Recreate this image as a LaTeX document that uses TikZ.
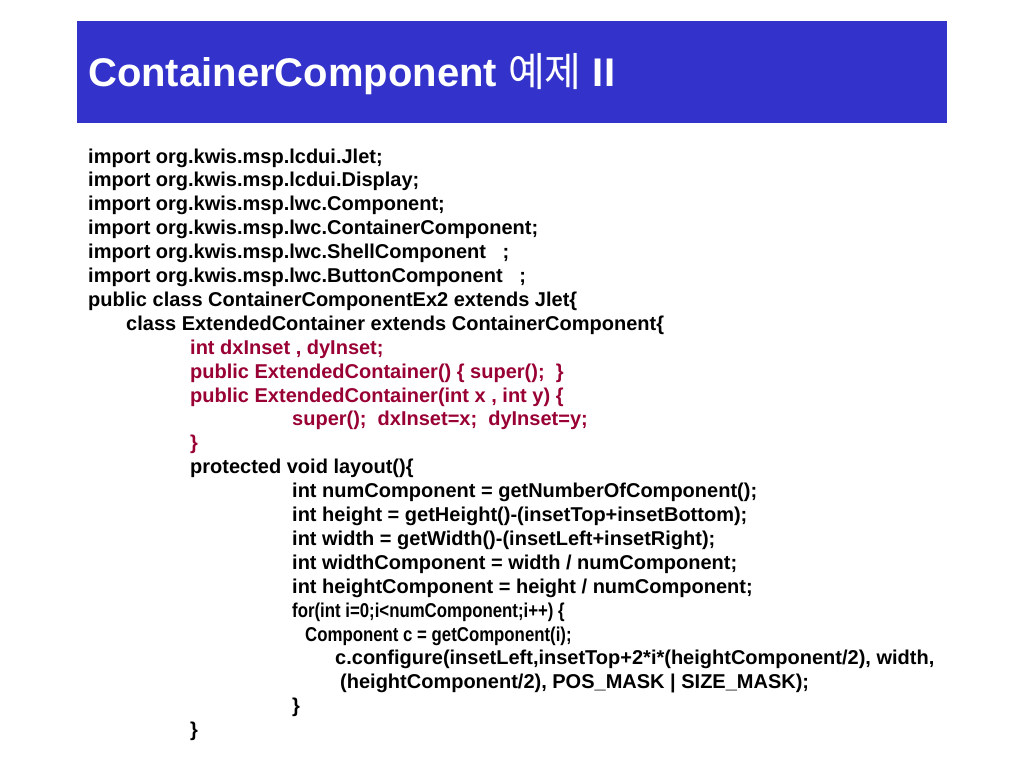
\documentclass[tikz,border=0pt]{standalone}
\usepackage{fontspec}
\setmainfont{Liberation Sans}
\newfontfamily\cjk{Noto Sans CJK KR}
\usepackage{tikz}
\usepackage{xcolor}
\definecolor{titleblue}{RGB}{51,51,204}
\definecolor{codered}{RGB}{153,0,51}
\tikzset{
  code/.style={anchor=base west,inner sep=0pt,font=\fontsize{20}{24}\selectfont\bfseries},
  redcode/.style={code,text=codered}
}

\begin{document}
\begin{tikzpicture}[x=1pt,y=-1pt]
	\useasboundingbox [fill=white] (0,0) rectangle (1024,768);

	\fill [titleblue] (77,21) rectangle (947,123);
	\node (title) [anchor=base west,inner sep=0pt,text=white,font=\fontsize{40}{48}\selectfont\bfseries] at (88,86) {ContainerComponent {\cjk\mdseries 예제} II};

	\node (l1) [code] at (88,163.0) {import org.kwis.msp.lcdui.Jlet;};
	\node (l2) [code] at (88,186.9) {import org.kwis.msp.lcdui.Display;};
	\node (l3) [code] at (88,210.8) {import org.kwis.msp.lwc.Component;};
	\node (l4) [code] at (88,234.7) {import org.kwis.msp.lwc.ContainerComponent;};
	\node (l5) [code] at (88,258.6) {import org.kwis.msp.lwc.ShellComponent~~~;};
	\node (l6) [code] at (88,282.5) {import org.kwis.msp.lwc.ButtonComponent~~~;};
	\node (l7) [code] at (88,306.4) {public class ContainerComponentEx2 extends Jlet\{};
	\node (l8) [code] at (126,330.3) {class ExtendedContainer extends ContainerComponent\{};

	\node (l9) [redcode] at (190,354.2) {int dxInset , dyInset;};
	\node (l10) [redcode] at (190,378.1) {public ExtendedContainer() \{ super();~~\}};
	\node (l11) [redcode] at (190,402.0) {public ExtendedContainer(int x , int y) \{};
	\node (l12) [redcode] at (292,425.9) {super();~~dxInset=x;~~dyInset=y;};
	\node (l13) [redcode] at (190,449.8) {\}};

	\node (l14) [code] at (190,473.7) {protected void layout()\{};
	\node (l15) [code] at (292,497.6) {int numComponent = getNumberOfComponent();};
	\node (l16) [code] at (292,521.5) {int height = getHeight()-(insetTop+insetBottom);};
	\node (l17) [code] at (292,545.4) {int width = getWidth()-(insetLeft+insetRight);};
	\node (l18) [code] at (292,569.3) {int widthComponent = width / numComponent;};
	\node (l19) [code] at (292,593.2) {int heightComponent = height / numComponent;};
	\node (l20) [code] at (292,617.1) {\scalebox{0.84}[1]{for(int i=0;i<numComponent;i++) \{}};
	\node (l21) [code] at (305,641.0) {\scalebox{0.84}[1]{Component c = getComponent(i);}};
	\node (l22) [code] at (335,664.9) {c.configure(insetLeft,insetTop+2*i*(heightComponent/2), width,};
	\node (l23) [code] at (340,688.8) {(heightComponent/2), POS\_MASK | SIZE\_MASK);};
	\node (l24) [code] at (292,712.7) {\}};
	\node (l25) [code] at (190,736.6) {\}};
\end{tikzpicture}
\end{document}
